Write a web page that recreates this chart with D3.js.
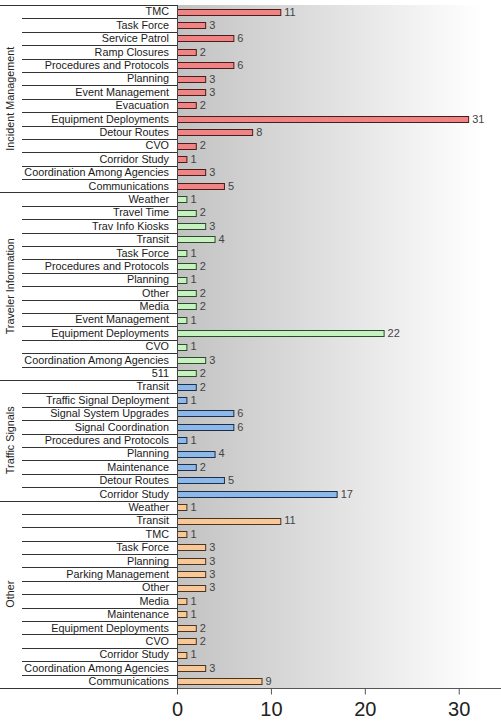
<!DOCTYPE html>
<html>
<head>
<meta charset="utf-8">
<script src="https://cdn.jsdelivr.net/npm/d3@7.9.0/dist/d3.min.js"></script>
<style>
  body { margin: 0; background: #fff; }
  svg { display: block; font-family: "Liberation Sans", Arial, sans-serif; }
</style>
</head>
<body>
<svg id="chart" width="501" height="722"></svg>
<script>
// groups, top to bottom
const groups = ['Incident Management', 'Traveler Information', 'Traffic Signals', 'Other'];

const incidentLabels = ['TMC', 'Task Force', 'Service Patrol', 'Ramp Closures', 'Procedures and Protocols',
  'Planning', 'Event Management', 'Evacuation', 'Equipment Deployments', 'Detour Routes', 'CVO',
  'Corridor Study', 'Coordination Among Agencies', 'Communications'];
const incidentValues = [11, 3, 6, 2, 6, 3, 3, 2, 31, 8, 2, 1, 3, 5];

const travelerLabels = ['Weather', 'Travel Time', 'Trav Info Kiosks', 'Transit', 'Task Force',
  'Procedures and Protocols', 'Planning', 'Other', 'Media', 'Event Management',
  'Equipment Deployments', 'CVO', 'Coordination Among Agencies', '511'];
const travelerValues = [1, 2, 3, 4, 1, 2, 1, 2, 2, 1, 22, 1, 3, 2];

const signalLabels = ['Transit', 'Traffic Signal Deployment', 'Signal System Upgrades', 'Signal Coordination',
  'Procedures and Protocols', 'Planning', 'Maintenance', 'Detour Routes', 'Corridor Study'];
const signalValues = [2, 1, 6, 6, 1, 4, 2, 5, 17];

const otherLabels = ['Weather', 'Transit', 'TMC', 'Task Force', 'Planning', 'Parking Management', 'Other',
  'Media', 'Maintenance', 'Equipment Deployments', 'CVO', 'Corridor Study',
  'Coordination Among Agencies', 'Communications'];
const otherValues = [1, 11, 1, 3, 3, 3, 3, 1, 1, 2, 2, 1, 3, 9];

const xTicks = [0, 10, 20, 30];

const fills = ['#f08484', '#c6f2c0', '#8cb9ea', '#f8c898'];
const strokes = ['#4a1c1c', '#2c4a2c', '#1e2e48', '#4a3420'];

const groupData = [
  [incidentLabels, incidentValues],
  [travelerLabels, travelerValues],
  [signalLabels, signalValues],
  [otherLabels, otherValues]
];

const rows = [];
groupData.forEach(([labels, values], g) => {
  labels.forEach((label, i) => rows.push({ key: g + '|' + i, group: g, label, value: values[i], first: i === 0 }));
});

const plotLeft = 177, plotTop = 5, plotBottom = 688, plotRight = 501;

const svg = d3.select('#chart');

const x = d3.scaleLinear().domain([0, 34.5]).range([plotLeft, plotRight]);
const y = d3.scaleBand().domain(rows.map(d => d.key)).range([plotTop, plotBottom]).padding(0);
const bh = 6;

// gradient background
const defs = svg.append('defs');
const grad = defs.append('linearGradient').attr('id', 'bg').attr('x1', 0).attr('x2', 1).attr('y1', 0).attr('y2', 0);
grad.append('stop').attr('offset', '0%').attr('stop-color', '#c2c2c2');
grad.append('stop').attr('offset', '94%').attr('stop-color', '#ffffff');
grad.append('stop').attr('offset', '100%').attr('stop-color', '#ffffff');

svg.append('rect')
  .attr('x', plotLeft).attr('y', plotTop)
  .attr('width', plotRight - plotLeft).attr('height', plotBottom - plotTop)
  .attr('fill', 'url(#bg)');

// row separator lines in the label area
svg.append('g')
  .selectAll('line')
  .data(rows)
  .join('line')
  .attr('x1', d => d.first ? 0 : 22)
  .attr('x2', plotLeft)
  .attr('y1', d => Math.round(y(d.key)) + 0.5)
  .attr('y2', d => Math.round(y(d.key)) + 0.5)
  .attr('stroke', '#333')
  .attr('stroke-width', 1);

svg.append('line')
  .attr('x1', 0).attr('x2', plotLeft)
  .attr('y1', plotBottom + 0.5).attr('y2', plotBottom + 0.5)
  .attr('stroke', '#333');

// category labels
svg.append('g')
  .selectAll('text')
  .data(rows)
  .join('text')
  .attr('x', plotLeft - 8)
  .attr('y', d => y(d.key) + y.bandwidth() / 2)
  .attr('dy', '0.35em')
  .attr('text-anchor', 'end')
  .attr('font-size', 10.8)
  .attr('fill', '#1a1a1a')
  .text(d => d.label);

// group labels
groups.forEach((name, g) => {
  const gr = rows.filter(d => d.group === g);
  const y0 = y(gr[0].key), y1 = y(gr[gr.length - 1].key) + y.bandwidth();
  svg.append('text')
    .attr('transform', `translate(10,${(y0 + y1) / 2}) rotate(-90)`)
    .attr('text-anchor', 'middle')
    .attr('dy', '0.35em')
    .attr('font-size', 10.8)
    .attr('fill', '#222')
    .text(name);
});

// bars
svg.append('g')
  .selectAll('rect')
  .data(rows)
  .join('rect')
  .attr('x', x(0) + 0.5)
  .attr('y', d => Math.round(y(d.key) + y.bandwidth() / 2 - bh / 2) + 0.5)
  .attr('width', d => x(d.value) - x(0))
  .attr('height', bh)
  .attr('fill', d => fills[d.group])
  .attr('stroke', d => strokes[d.group])
  .attr('stroke-width', 1);

// value labels
svg.append('g')
  .selectAll('text')
  .data(rows)
  .join('text')
  .attr('x', d => x(d.value) + 4)
  .attr('y', d => y(d.key) + y.bandwidth() / 2)
  .attr('dy', '0.35em')
  .attr('font-size', 11)
  .attr('fill', '#444')
  .text(d => d.value);

// y axis line
svg.append('line')
  .attr('x1', plotLeft + 0.5).attr('x2', plotLeft + 0.5)
  .attr('y1', plotTop).attr('y2', plotBottom + 6)
  .attr('stroke', '#444');

// x axis
const xAxis = svg.append('g')
  .attr('transform', `translate(0,${plotBottom + 0.5})`)
  .call(d3.axisBottom(x).tickValues(xTicks).tickSize(6).tickPadding(7));
xAxis.select('.domain').attr('stroke', '#555').attr('d', `M${plotLeft},0H${plotRight}`);
xAxis.selectAll('.tick line').attr('stroke', '#555');
xAxis.selectAll('.tick text')
  .attr('font-size', 20)
  .attr('font-family', '"Liberation Sans", Arial, sans-serif')
  .attr('fill', '#222');
</script>
</body>
</html>
